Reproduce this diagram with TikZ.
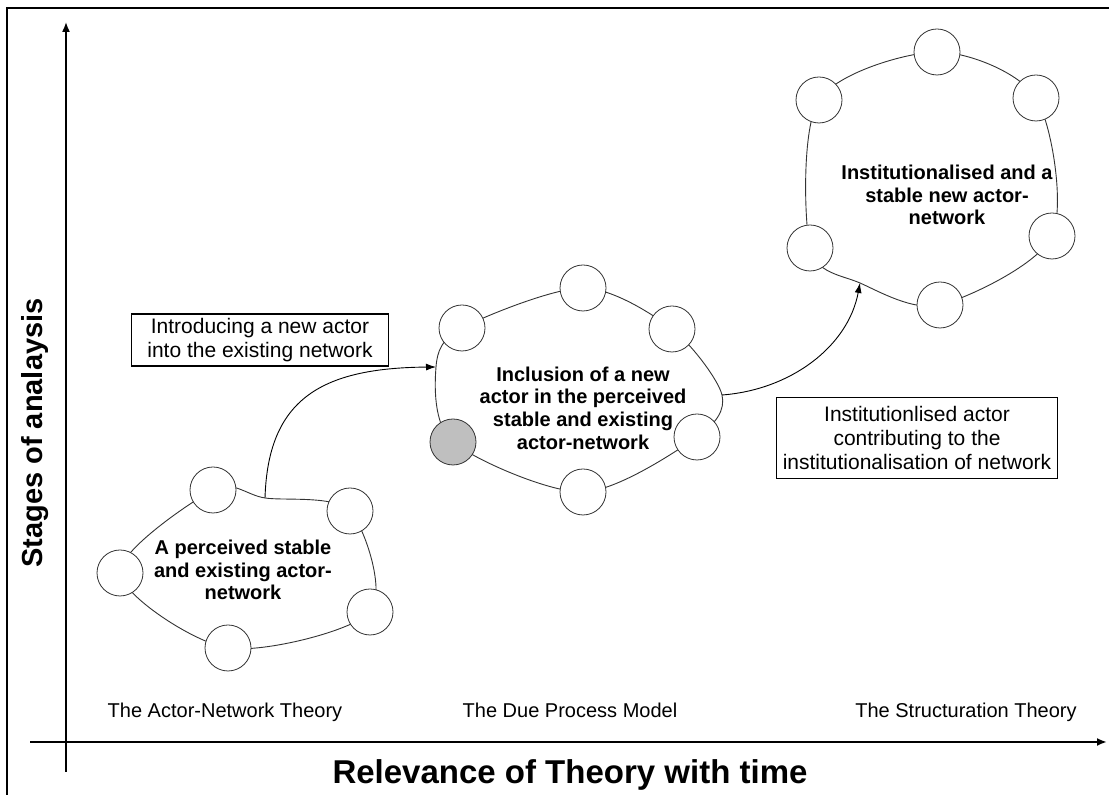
\documentclass[tikz,border=0pt]{standalone}
\usepackage{fontspec}
\setmainfont{Liberation Sans}
\usetikzlibrary{arrows.meta, backgrounds}

\begin{document}
\begin{tikzpicture}[x=0.5pt, y=0.5pt,
    actor/.style={circle, draw=black!80, line width=0.4pt, fill=white, minimum size=23pt, inner sep=0pt},
    newactor/.style={actor, fill=black!25},
    ring/.style={draw=black!80, line width=0.45pt},
    netlabel/.style={font=\bfseries\fontsize{10}{11.3}\selectfont, align=center},
    theory/.style={font=\fontsize{10}{12}\selectfont, text height=7.5pt, text depth=2pt},
    note/.style={draw, line width=0.6pt, align=center, inner sep=0pt, font=\fontsize{10.5}{12}\selectfont},
    flow/.style={line width=0.45pt, -{Latex[length=5pt, width=3.5pt]}}]
    \useasboundingbox (0,0) rectangle (1109,795);
    % frame and axes
    \draw[line width=0.8pt] (7,0) -- (7,787) -- (1109,787);
    \coordinate (xs) at (30,53);
    \coordinate (xe) at (1107,53);
    \coordinate (ys) at (66,23);
    \coordinate (ye) at (66,773);
    \draw[line width=1.2pt, -{Latex[length=5pt, width=4pt]}] (xs) -- (xe);
    \draw[line width=0.8pt, -{Latex[length=5pt, width=4pt]}] (ys) -- (ye);
    \node[font=\bfseries\fontsize{14.5}{16}\selectfont, rotate=90] (ylab) at (35,362) {Stages of analaysis};
    \node[font=\bfseries\fontsize{16.5}{18}\selectfont] (xlab) at (570,20) {Relevance of Theory with time};
    \node[theory] (ant) at (225,83) {The Actor-Network Theory};
    \node[theory] (dpm) at (570,83) {The Due Process Model};
    \node[theory] (st) at (966,83) {The Structuration Theory};

    % first network
    \node[actor] (a1) at (213,305) {};
    \node[actor] (a2) at (350,284) {};
    \node[actor] (a3) at (370,183) {};
    \node[actor] (a4) at (228,147) {};
    \node[actor] (a5) at (120,222) {};
    \coordinate (out1) at (265,297);
    \node[netlabel] (lab1) at (243,225) {A perceived stable\\and existing actor-\\network};

    % second network
    \node[actor] (b1) at (583,507) {};
    \node[actor] (b2) at (672,466) {};
    \node[actor] (b3) at (697,358) {};
    \node[actor] (b4) at (583,303) {};
    \node[newactor] (b5) at (453,353) {};
    \node[actor] (b6) at (462,467) {};
    \coordinate (in2) at (436,428);
    \coordinate (out2) at (722,400);
    \node[netlabel] (lab2) at (583,387) {Inclusion of a new\\actor in the perceived\\stable and existing\\actor-network};

    % third network
    \node[actor] (c1) at (937,743) {};
    \node[actor] (c2) at (1036,697) {};
    \node[actor] (c3) at (1052,559) {};
    \node[actor] (c4) at (940,490) {};
    \node[actor] (c5) at (810,547) {};
    \node[actor] (c6) at (819,695) {};
    \coordinate (in3) at (860,512);
    \node[netlabel] (lab3) at (947,600) {Institutionalised and a\\stable new actor-\\network};

    \begin{scope}[on background layer]
        \draw[ring] plot[smooth cycle] coordinates {(a1.center) (out1) (a2.center) (a3.center) (a4.center) (a5.center)};
        \draw[ring] plot[smooth cycle] coordinates {(b1.center) (b2.center) (out2) (b3.center) (b4.center) (b5.center) (in2) (b6.center)};
        \draw[ring] plot[smooth cycle] coordinates {(c1.center) (c2.center) (c3.center) (c4.center) (in3) (c5.center) (c6.center)};
    \end{scope}

    % transitions
    \node[note, minimum width=128.5pt, minimum height=26pt] (note1) at (260,455) {Introducing a new actor\\into the existing network};
    \node[note, minimum width=140.5pt, minimum height=40.5pt] (note2) at (917,357) {Institutionlised actor\\contributing to the\\institutionalisation of network};
    \draw[flow] (out1) .. controls (268,395) and (320,427) .. (in2);
    \draw[flow] (out2) .. controls (790,405) and (848,448) .. (in3);
\end{tikzpicture}
\end{document}
